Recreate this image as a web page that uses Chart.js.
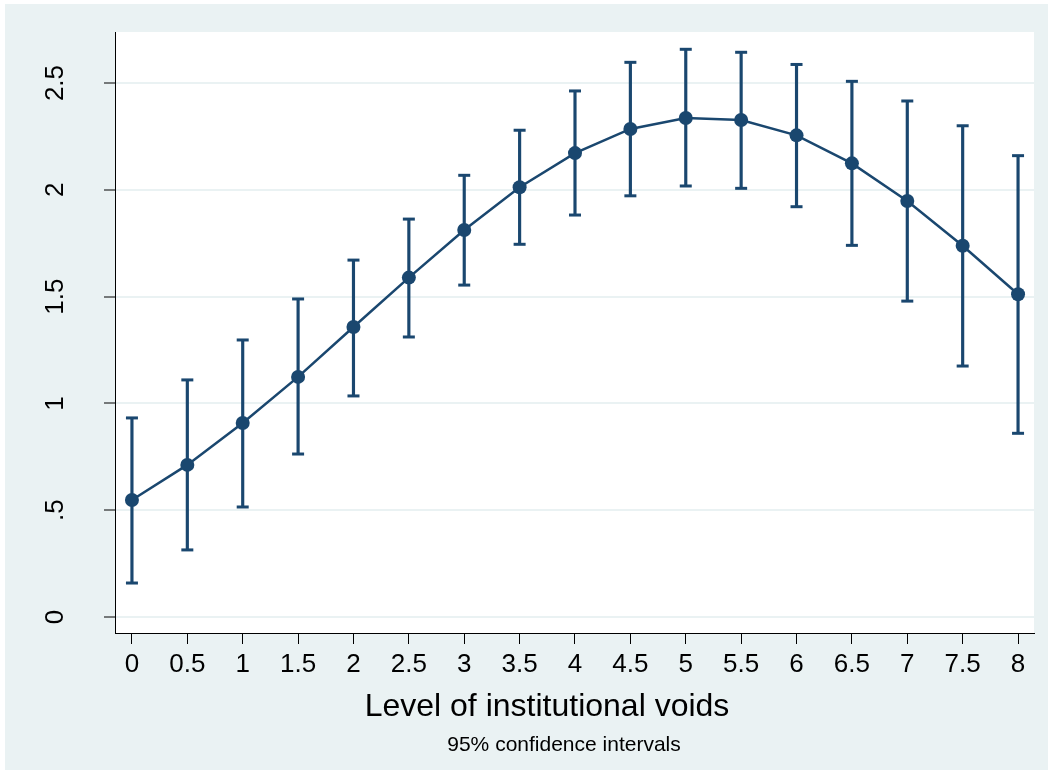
<!DOCTYPE html>
<html>
<head>
<meta charset="utf-8">
<script src="https://cdn.jsdelivr.net/npm/chart.js@4"></script>
<style>
  html, body { margin: 0; padding: 0; background: #fff; }
  #wrap { width: 1049px; height: 770px; }
</style>
</head>
<body>
<div id="wrap"><canvas id="c" width="1049" height="770"></canvas></div>
<script>
// --- data ---
const levels = [0, 0.5, 1, 1.5, 2, 2.5, 3, 3.5, 4, 4.5, 5, 5.5, 6, 6.5, 7, 7.5, 8];
const margins = [0.548, 0.712, 0.908, 1.124, 1.358, 1.589, 1.812, 2.012, 2.172, 2.285, 2.336, 2.327, 2.255, 2.124, 1.948, 1.738, 1.511];
const ciLow  = [0.159, 0.314, 0.515, 0.763, 1.035, 1.311, 1.554, 1.745, 1.882, 1.972, 2.018, 2.007, 1.921, 1.740, 1.479, 1.175, 0.860];
const ciHigh = [0.932, 1.110, 1.297, 1.489, 1.671, 1.863, 2.068, 2.279, 2.463, 2.597, 2.658, 2.644, 2.587, 2.508, 2.416, 2.300, 2.160];
const xTicks = [0, 0.5, 1, 1.5, 2, 2.5, 3, 3.5, 4, 4.5, 5, 5.5, 6, 6.5, 7, 7.5, 8];
const yTicks = [0, 0.5, 1, 1.5, 2, 2.5];
const xTitle = 'Level of institutional voids';
const note = '95% confidence intervals';

const navy = '#1a476f';
const bgBlue = '#eaf2f3';
const FONT = "'Liberation Sans', Arial, Helvetica, sans-serif";

// stata-ish backdrop: light frame, white plot region
const backdrop = {
  id: 'backdrop',
  beforeDraw(chart) {
    const {ctx, chartArea: a} = chart;
    ctx.save();
    ctx.fillStyle = '#fff';
    ctx.fillRect(0, 0, chart.width, chart.height);
    ctx.fillStyle = bgBlue;
    ctx.fillRect(5, 4, 1043, 766);
    ctx.fillStyle = '#fff';
    ctx.fillRect(a.left, a.top, a.right - a.left, a.bottom - a.top);
    ctx.restore();
  }
};

// axis title + note (stata puts them a bit off the plot centre)
const captions = {
  id: 'captions',
  afterDraw(chart) {
    const {ctx} = chart;
    ctx.save();
    ctx.fillStyle = '#000';
    ctx.textAlign = 'center';
    ctx.textBaseline = 'middle';
    ctx.font = `32px ${FONT}`;
    ctx.fillText(xTitle, 547, 707);
    ctx.font = `21px ${FONT}`;
    ctx.fillText(note, 564, 745);
    ctx.restore();
  }
};

const ctx = document.getElementById('c').getContext('2d');
new Chart(ctx, {
  type: 'line',
  data: {
    datasets: [
      {
        type: 'line',
        data: levels.map((x, i) => ({x, y: margins[i]})),
        borderColor: navy,
        backgroundColor: navy,
        borderWidth: 2.5,
        pointRadius: 7,
        pointBorderWidth: 0,
        tension: 0,
        order: 1
      },
      {
        type: 'bar',
        data: levels.map((x, i) => ({x, y: [ciLow[i], ciHigh[i]]})),
        backgroundColor: navy,
        borderWidth: 0,
        barThickness: 2.5,
        order: 3
      },
      {
        type: 'scatter',
        data: levels.map((x, i) => ({x, y: ciLow[i]})).concat(levels.map((x, i) => ({x, y: ciHigh[i]}))),
        pointStyle: 'line',
        pointRadius: 6,
        borderColor: navy,
        borderWidth: 3,
        order: 2
      }
    ]
  },
  options: {
    responsive: false,
    animation: false,
    layout: { padding: { left: 0, right: 15, top: 32, bottom: 37 } },
    plugins: {
      legend: { display: false },
      tooltip: { enabled: false }
    },
    scales: {
      x: {
        type: 'linear',
        min: -0.153,
        max: 8.144,
        offset: false,
        afterBuildTicks: axis => { axis.ticks = xTicks.map(v => ({value: v})); },
        afterFit: scale => {
          scale.height = 100;
          scale.paddingLeft = 0;
          scale.paddingRight = 0;
        },
        grid: { drawOnChartArea: false, drawTicks: true, tickLength: 11, tickColor: '#000', tickWidth: 1, offset: false },
        border: { display: true, color: '#000', width: 1 },
        ticks: {
          color: '#000',
          padding: 5.4,
          maxRotation: 0,
          autoSkip: false,
          font: { family: FONT, size: 26 },
          callback: v => String(v)
        }
      },
      y: {
        type: 'linear',
        min: -0.075,
        max: 2.739,
        afterBuildTicks: axis => { axis.ticks = yTicks.map(v => ({value: v})); },
        afterFit: scale => {
          scale.width = 115;
          scale.paddingTop = 0;
          scale.paddingBottom = 0;
        },
        grid: { color: bgBlue, lineWidth: 2, drawTicks: true, tickLength: 11, tickColor: '#000', tickWidth: 1 },
        border: { display: true, color: '#000', width: 1 },
        ticks: {
          color: '#000',
          padding: 30,
          minRotation: 90,
          maxRotation: 90,
          crossAlign: 'center',
          autoSkip: false,
          font: { family: FONT, size: 26 },
          callback: v => (v > 0 && v < 1) ? String(v).replace(/^0/, '') : String(v)
        }
      }
    }
  },
  plugins: [backdrop, captions]
});
</script>
</body>
</html>
